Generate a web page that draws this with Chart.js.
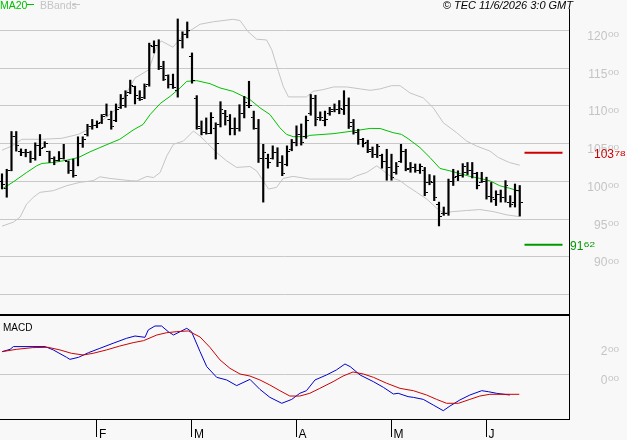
<!DOCTYPE html>
<html><head><meta charset="utf-8">
<script src="https://cdn.jsdelivr.net/npm/chart.js@4.4.1/dist/chart.umd.min.js"></script>
<style>
html,body{margin:0;padding:0;background:#f8f8f8;width:627px;height:440px;overflow:hidden;font-family:"Liberation Sans",Arial,sans-serif}
#wrap{position:relative;width:627px;height:440px}
canvas{position:absolute;left:0}
#main{top:0}
#macd{top:316px}
#sep{position:absolute;left:0;top:314px;width:570px;height:2px;background:#000}
.t{position:absolute;white-space:nowrap;line-height:1}
.sw{position:absolute;height:1px}
</style></head>
<body><div id="wrap">
<canvas id="main" width="627" height="314"></canvas>
<div id="sep"></div>
<canvas id="macd" width="627" height="124"></canvas>
<div class="t" style="left:0;top:0;font-size:10.5px;color:#00c000">MA20</div>
<div class="sw" style="left:27px;top:4px;width:7px;background:#00c000"></div>
<div class="t" style="left:40px;top:0;font-size:10.5px;color:#c4c4c4">BBands</div>
<div class="sw" style="left:72px;top:4px;width:8px;background:#c4c4c4"></div>
<div style="position:absolute;left:560px;top:0;width:14px;height:9px;background:#f8f8f8"></div>
<div class="t" style="right:54px;top:0;font-size:11px;font-style:italic;color:#000">© TEC 11/6/2026 3:0 GMT</div>
<div class="t" style="left:3px;top:323px;font-size:10px;color:#000">MACD</div>
</div>
<script>
// ---- data (index = trading day) ----
const highs = [10100,10160,10660,10660,10430,10425,10400,10510,10620,10525,10400,10325,10395,10490,10270,10295,10590,10590,10755,10820,
10800,10885,11025,10930,11025,11150,11200,11340,11260,11200,11290,11830,11860,11875,11590,11410,11420,12150,11980,12110,
11700,11135,10800,10840,10910,10775,11055,10940,10885,10840,11015,11125,11325,10930,10820,10490,10360,10470,10445,10340,
10470,10555,10735,10760,10865,11150,11140,10920,10930,10980,11025,11070,11200,11105,10820,10690,10570,10545,10455,10490,
10360,10425,10360,10250,10490,10425,10250,10230,10230,10185,10090,10075,9725,9660,10030,10160,10140,10235,10250,10250,
10120,10120,10055,9985,9875,9885,10010,9810,9965,9945];
const lows = [9900,9790,10140,10400,10340,10325,10250,10280,10340,10450,10250,10220,10270,10295,10105,10055,10205,10450,10600,10690,
10710,10765,10865,10690,10790,10965,10980,11160,11025,11070,11095,11260,11700,11480,11335,11235,11230,11115,11765,11900,
11300,10690,10615,10625,10630,10295,10720,10745,10615,10615,10665,10840,10975,10690,10250,9725,10175,10295,10195,10075,
10205,10405,10470,10480,10570,10875,10735,10805,10735,10875,10920,10895,10885,10700,10625,10490,10455,10380,10315,10315,
10175,10015,10015,10095,10250,10140,10120,10120,10105,9810,9955,9745,9410,9550,9550,9945,10010,10055,10090,10045,
9900,9985,9765,9725,9680,9725,9725,9660,9660,9540];
const opens = [10000,9900,10150,10600,10400,10380,10380,10300,10470,10450,10400,10300,10280,10300,10260,10140,10080,10500,10620,10720,
10740,10780,10880,10820,10800,10980,11000,11180,11250,11100,11110,11280,11780,11800,11500,11400,11280,11200,11870,11950,
11650,11100,10700,10650,10640,10700,10750,10900,10800,10700,10700,10900,11000,10850,10700,10300,10300,10300,10380,10250,
10220,10420,10520,10620,10600,10900,11100,10850,10800,10900,10950,10950,10950,11000,10780,10650,10550,10520,10420,10350,
10340,10260,10180,10120,10260,10400,10170,10180,10150,10150,9980,9990,9700,9570,9570,10000,10060,10080,10120,10150,
10100,9990,10000,9800,9760,9820,9780,9720,9720,9880];
const closes = [9960,10140,10600,10480,10380,10380,10300,10470,10430,10500,10300,10280,10300,10280,10140,10080,10500,10560,10720,10740,
10760,10860,10820,10730,10950,11100,11140,11270,11140,11090,11260,11800,11800,11520,11350,11280,11240,11870,11950,12000,
11340,10720,10650,10640,10850,10500,10950,10860,10700,10700,10900,11050,11000,10700,10300,10380,10250,10380,10250,10100,
10400,10520,10620,10520,10800,11100,10820,10850,10820,10920,10950,10960,11000,10720,10650,10560,10500,10400,10350,10460,
10260,10180,10050,10200,10400,10160,10180,10150,10200,9850,10000,9780,9540,9570,10000,10050,10080,10200,10150,10100,
9950,10000,9800,9780,9820,9780,9940,9700,9880,9720];
const ma20 = [[0,9898],[2.4,9994],[5.2,10118],[7.3,10206],[8.4,10237],[10.8,10250],[13.6,10280],[16.1,10316],[18.5,10390],[20.6,10447],
[23.4,10521],[24.8,10557],[27.6,10679],[29.7,10754],[31.2,10885],[33.3,11030],[35.4,11126],[37.5,11237],[38.9,11324],[41,11333],
[43.8,11293],[45.9,11237],[48.6,11192],[52.2,11083],[54.3,10974],[56.4,10885],[58.5,10710],[59.9,10622],[61.3,10592],[64.1,10592],
[64.8,10609],[69.7,10631],[73.9,10666],[77.5,10701],[79.6,10700],[82.3,10645],[84.1,10622],[85.5,10565],[88,10447],[90.1,10316],
[92.2,10171],[94.3,10139],[98.5,10066],[100.6,10039],[102.7,10008],[104.8,9942],[106.9,9908],[109,9868]];
const bbUpper = [[0,10412],[2.1,10469],[4.2,10557],[8.4,10557],[12.6,10570],[16.1,10623],[18.2,10689],[21,10798],[23.9,10952],[26,11149],
[28,11368],[30.9,11478],[32.6,11785],[33.5,11860],[36,11776],[38.2,11938],[41.7,12080],[44.5,12113],[48.6,12145],[50.1,12130],
[51.8,11982],[53.6,11882],[55.7,11872],[56.8,11741],[58.2,11455],[59.2,11258],[60.3,11118],[64.1,11118],[65.5,11192],[67.6,11214],
[69.8,11250],[72.6,11250],[75.4,11224],[77.5,11205],[79.6,11224],[82,11267],[83.8,11267],[85.9,11170],[88.7,11105],[90.8,10974],
[92.9,10776],[95.7,10645],[97.8,10534],[99.9,10468],[102.7,10402],[104.5,10316],[106.8,10250],[109,10214]];
const bbLower = [[0,9407],[2.4,9460],[3.8,9526],[5.2,9701],[6.6,9789],[8,9855],[10.8,9877],[13.6,9942],[16.4,9987],[19.2,10009],
[20.6,10060],[22.7,10039],[27,10009],[28.4,10005],[30.5,10066],[31.9,10050],[33.3,10118],[34.7,10337],[36.1,10491],[38.2,10534],
[40.3,10666],[41.7,10600],[43.1,10513],[45.2,10381],[47.3,10271],[49.4,10184],[52.2,10197],[53.6,10139],[55,10008],[56.1,9898],
[57.8,9920],[59.2,10039],[61.3,10066],[64.8,10030],[73.3,10030],[74.7,10074],[76.8,10118],[78.9,10206],[80.3,10139],[82.4,10039],
[83.8,10009],[85.2,9942],[87.3,9855],[89.4,9767],[91.5,9645],[92.9,9583],[95,9600],[97.8,9614],[100.6,9627],[103.4,9600],
[106.3,9556],[108.8,9534]];
const macdLine = [[0,154],[1.7,170],[2.4,189],[9.1,189],[10.8,166],[13.6,115],[14.3,101],[16.1,115],[18.2,147],[20.6,177],
[23.4,212],[26.2,246],[28,262],[30.1,253],[30.8,304],[32.2,331],[33.6,331],[35,292],[36.1,269],[37.5,292],
[38.9,315],[39.9,292],[41.7,154],[43.1,51],[45.2,-23],[47.3,-41],[49.4,-80],[52.2,-37],[54.3,-106],[56.4,-161],
[58.9,-202],[61,-175],[62.7,-133],[64.1,-115],[65.9,-41],[68.3,-7],[70.4,28],[72.2,69],[73.3,51],[75.4,-7],
[78.2,-53],[80.3,-92],[82.4,-138],[83.4,-133],[85.5,-156],[86.6,-161],[88.7,-175],[90.8,-214],[92.9,-253],[94.3,-221],
[96.4,-179],[98.5,-145],[101,-115],[102.4,-122],[104.1,-133],[106.9,-145]];
const signalLine = [[0,154],[3,170],[6.5,182],[9.7,184],[12.2,166],[14.6,143],[17.1,131],[19.2,143],[22,166],[24.8,193],
[27.6,216],[29.8,230],[32.6,269],[34.7,285],[36.8,292],[39.2,297],[41.7,255],[43.8,183],[45.9,97],[48,39],
[50.1,0],[52.2,-14],[54.3,-41],[56.4,-76],[58.5,-115],[60.6,-152],[62.7,-152],[64.8,-133],[66.9,-99],[69.7,-53],
[71.8,-14],[73.9,14],[76.1,0],[78.2,-23],[81,-64],[83.8,-99],[86.6,-115],[89.4,-145],[91.5,-175],[93.6,-202],
[96.1,-202],[98.5,-175],[100.6,-152],[102.7,-140],[108.9,-140]];
const resistance = 10378;
const support = 9162;
const levelSpan = [110, 118];
const priceGrid = [8500,9000,9500,10000,10500,11000,11500,12000];
const priceTickLabels = [9000,9500,10000,10500,11000,11500,12000];
const macdTicks = [0,200];
const monthStarts = [20,40,62,82,102];
const monthLabels = ['F','M','A','M','J'];

// ---- styling ----
const FONT = '"Liberation Sans", Arial, sans-serif';
const X_MIN = -0.42, X_MAX = 119.37;
const AXIS_W = 58;
function tickImg(side){
  const c = document.createElement('canvas'); c.width = 6; c.height = 1;
  const g = c.getContext('2d'); g.fillStyle = '#000';
  g.fillRect(side === 'L' ? 0 : 4, 0, 2, 1); return c;
}
function drawSplit(ctx, v, x, capTop, color, align){
  const s = (v/100).toFixed(2).split('.');
  ctx.save();
  ctx.textBaseline = 'alphabetic'; ctx.textAlign = 'left'; ctx.fillStyle = color;
  ctx.font = '12px ' + FONT; const wa = ctx.measureText(s[0]).width;
  ctx.font = '8px ' + FONT; const wb = ctx.measureText(s[1]).width * 1.25;
  const x0 = align === 'right' ? x - wa - wb - 0.5 : x;
  ctx.font = '12px ' + FONT; ctx.fillText(s[0], x0, capTop + 8.6);
  ctx.translate(x0 + wa + 0.5, capTop + 5.8); ctx.scale(1.25, 1);
  ctx.font = '8px ' + FONT; ctx.fillText(s[1], 0, 0);
  ctx.restore();
}
const labelPlugin = {
  id: 'splitLabels',
  afterDraw(chart, args, opts){
    const ys = chart.scales.y;
    (opts.items || []).forEach(it => {
      drawSplit(chart.ctx, it.value, it.x, ys.getPixelForValue(it.value) + it.dy, it.color, it.align);
    });
  }
};
const pts = arr => arr.map(p => ({x: p[0], y: p[1]}));
const lineDS = (data, color, order, w) => ({type:'line', data, borderColor:color, borderWidth:w||1, pointRadius:0, tension:0, fill:false, order});

const mainItems = priceTickLabels.map(v => ({value:v, x:619, dy:1, color:'#c4c4c4', align:'right'}))
  .concat([{value:resistance, x:594, dy:-3, color:'#cc0000', align:'left'},
           {value:support, x:570, dy:-3.3, color:'#009900', align:'left'}]);

new Chart(document.getElementById('main'), {
  type: 'line',
  data: { datasets: [
    {type:'bar', data: highs.map((h,i) => ({x:i, y:[lows[i], h]})), backgroundColor:'#000', borderWidth:0, barThickness:1.5, grouped:false, order:0},
    {type:'line', data: opens.map((v,i) => ({x:i, y:v})), showLine:false, pointStyle: tickImg('L'), pointRadius:3, order:0},
    {type:'line', data: closes.map((v,i) => ({x:i, y:v})), showLine:false, pointStyle: tickImg('R'), pointRadius:3, order:0},
    lineDS(pts(ma20), '#00c000', 1),
    lineDS(pts(bbUpper), '#c4c4c4', 2),
    lineDS(pts(bbLower), '#c4c4c4', 2),
    lineDS(levelSpan.map(x => ({x, y:resistance})), '#cc0000', 0, 2),
    lineDS(levelSpan.map(x => ({x, y:support})), '#009900', 0, 2)
  ]},
  options: {
    responsive:false, animation:false, devicePixelRatio:1, events:[],
    layout:{padding:0, autoPadding:false},
    plugins:{legend:{display:false}, tooltip:{enabled:false}, splitLabels:{items: mainItems}},
    scales:{
      x:{type:'linear', display:false, offset:false, grid:{offset:false}, min:X_MIN, max:X_MAX},
      y:{type:'linear', position:'right', min:8244, max:12401,
         afterBuildTicks: s => { s.ticks = priceGrid.map(v => ({value:v})); },
         afterFit: s => { s.width = AXIS_W; },
         ticks:{display:false},
         grid:{color:'#c8c8c8', drawTicks:false, lineWidth:1},
         border:{display:true, color:'#000', width:1}}
    }
  },
  plugins:[labelPlugin]
});

const macdItems = macdTicks.map(v => ({value:v, x:619, dy:1, color:'#c4c4c4', align:'right'}));
new Chart(document.getElementById('macd'), {
  type: 'line',
  data: { datasets: [
    lineDS(pts(macdLine), '#0000cc', 1),
    lineDS(pts(signalLine), '#cc0000', 0)
  ]},
  options: {
    responsive:false, animation:false, devicePixelRatio:1, events:[],
    layout:{padding:0, autoPadding:false},
    plugins:{legend:{display:false}, tooltip:{enabled:false}, splitLabels:{items: macdItems}},
    scales:{
      x:{type:'linear', position:'bottom', offset:false, min:X_MIN, max:X_MAX,
         afterBuildTicks: s => { s.ticks = monthStarts.map(v => ({value:v})); },
         afterFit: s => { s.height = 21; },
         ticks:{color:'#000', font:{family:FONT, size:12}, align:'start', labelOffset:2, padding:-10, maxRotation:0, autoSkip:false,
                callback: v => monthLabels[monthStarts.indexOf(v)]},
         grid:{drawOnChartArea:false, drawTicks:true, tickLength:18, color:'#000', tickColor:'#000'},
         border:{display:true, color:'#000', width:1}},
      y:{type:'linear', position:'right', min:-310.3, max:400,
         afterBuildTicks: s => { s.ticks = macdTicks.map(v => ({value:v})); },
         afterFit: s => { s.width = AXIS_W; },
         ticks:{display:false},
         grid:{drawTicks:false, color: c => (c.tick && c.tick.value === 0) ? '#c8c8c8' : 'rgba(0,0,0,0)'},
         border:{display:true, color:'#000', width:1}}
    }
  },
  plugins:[labelPlugin]
});
</script>
</body></html>
